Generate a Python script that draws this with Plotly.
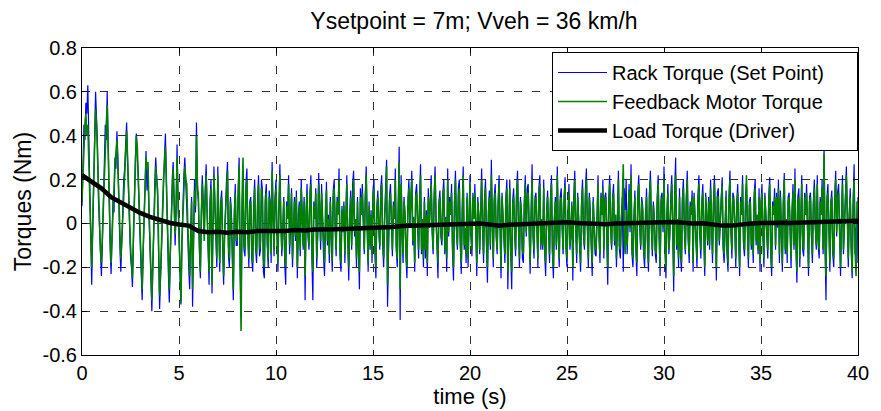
import numpy as np
import plotly.graph_objects as go

# ---- data, 0.05 s steps from 0 to 40 s ----
rack_torque = [
    .08, .30, .45, .38, .55, .50, .63, .40, .20, -.10, -.28, -.05, .15, .42, .60, .48, .35, .10, -.05, -.18,
    -.24, -.10, .10, .30, .45, .38, .60, .35, .05, -.12, -.23, -.08, .12, .05, .30, .25, .42, .30, .05, -.10,
    -.22, -.12, .05, .20, .25, .36, .46, .28, .10, -.05, -.15, -.20, -.29, -.10, .15, .30, .41, .33, .20, .05,
    -.10, -.20, -.35, -.15, .05, .20, .33, .15, .25, .05, -.12, -.28, -.40, -.22, .02, .18, .30, .22, .12, -.15,
    -.39, -.25, -.10, .10, .25, .30, .41, .15, -.05, -.22, -.36, -.15, .05, .20, .28, .12, -.10, .05, .36, .10,
    -.10, -.25, -.37, -.10, .10, .22, .30, .18, .15, -.05, -.20, -.30, -.05, .12, -.38, -.15, .20, .05, .46, .15,
    .10, -.12, -.25, .05, .22, .10, -.05, .15, .27, .05, -.15, -.28, .10, .20, -.32, -.10, .26, .08, -.05, -.20,
    .26, .05, -.22, .10, .15, -.10, -.28, -.05, .10, .20, .28, -.15, -.20, .12, .05, -.18, -.35, .05, .18, -.10,
    -.10, .15, .30, -.20, -.43, .05, .22, -.12, -.15, .18, .25, -.05, -.20, .10, .12, -.16, -.22, .08, .20, -.12,
    -.18, .10, .22, -.15, -.12, .20, .15, -.22, -.25, .12, .18, -.10, -.20, .15, .10, -.18, .28, .05, -.15, .12,
    .20, -.05, -.22, .08, .27, .02, -.15, -.04, .12, -.18, -.28, .10, .03, .22, -.14, -.02, .16, -.20, .05, .12,
    -.08, .15, -.25, .04, .10, -.15, .20, .06, -.12, .12, -.35, .05, .18, -.06, -.12, .14, .22, -.16, -.35, .10,
    .02, .16, -.20, -.05, .23, .08, -.12, .18, -.02, -.15, -.24, .08, .19, -.10, .04, -.18, .12, -.06, -.22, .15,
    .20, -.02, -.15, .12, .05, .25, -.16, -.22, .08, -.04, .10, -.18, .14, .22, -.08, -.26, .03, .15, -.12, .18,
    .24, -.06, .02, -.20, .12, -.14, -.30, .16, .04, .18, -.08, -.14, .12, .26, -.02, -.22, .10, -.12, .06, -.18,
    .15, .20, -.14, -.25, .08, .15, -.03, -.12, .16, .22, -.10, -.20, .04, .14, .29, -.38, -.10, .12, .18, -.05,
    -.15, .10, .02, .25, -.12, -.20, .14, .35, -.44, .22, -.04, -.18, .12, .04, -.16, -.25, .10, .20, -.02, .16,
    .24, -.10, .03, -.22, .14, .18, -.06, -.16, .10, .27, -.14, .02, -.20, .12, -.16, .06, -.24, .16, -.02, .14,
    .22, -.04, -.14, .12, .26, .02, -.16, -.25, .10, .15, -.06, -.10, .14, .20, -.14, .03, -.22, .25, -.06, .12,
    .04, .18, -.14, -.26, .10, .24, -.02, -.12, .16, .20, -.10, -.23, .06, .26, -.12, -.04, -.18, .14, -.20, .12,
    .22, -.06, -.15, .14, .02, .18, -.10, -.24, .12, .04, -.14, .10, .25, -.04, -.18, .12, .20, -.10, -.27, .06,
    .15, -.12, .29, .02, -.20, .12, .18, -.06, -.14, .10, .22, -.02, -.25, .14, .04, -.10, -.18, .12, .20, -.30,
    .08, .20, -.14, -.30, .10, .16, -.04, -.15, .14, .24, -.02, -.20, .12, .05, -.16, -.18, .10, .22, -.06, .16,
    .18, -.10, -.23, .04, .27, -.06, -.16, .12, .14, -.02, -.20, .16, .22, -.12, .02, -.12, .20, -.14, -.24, .06,
    .15, -.04, -.18, .12, .22, -.14, -.25, .02, .12, -.12, .26, -.06, -.20, .12, .16, -.02, -.14, .12, .21, -.12,
    -.20, .04, .18, -.12, -.05, .10, -.26, .12, .24, -.02, -.18, .14, .04, -.12, -.22, .10, .20, -.06, -.12, .16,
    .25, -.02, -.20, .14, .06, -.10, -.24, .12, .02, -.14, -.15, .10, .22, -.06, -.18, .14, .04, .20, -.16, .12,
    .14, -.06, -.28, .10, .22, -.02, -.12, .12, .18, -.10, .04, -.20, .14, .24, -.12, -.16, .02, .12, -.22, .16,
    .06, .20, -.14, .12, .18, -.04, .27, -.14, -.20, .02, .15, -.12, -.24, .14, .22, -.02, -.12, .12, .08, -.14,
    -.20, .04, .16, -.10, -.22, .14, .24, -.02, -.15, .10, .03, -.14, -.18, .12, .22, -.06, -.24, .12, .14, -.04,
    .26, -.12, -.25, .04, .18, -.14, -.06, .12, .22, -.02, -.31, .14, .30, -.12, .02, -.20, .16, -.14, -.22, .12,
    .20, -.02, -.14, .12, .24, -.08, -.18, .10, .04, .15, -.22, .14, .02, -.10, -.20, .12, .22, -.06, -.16, .10,
    .18, -.04, -.24, .14, .02, -.10, .12, -.12, .20, -.06, -.18, .10, .22, -.02, -.26, .14, .16, -.10, .04, .12,
    .21, -.12, -.18, .02, .15, -.14, -.22, .12, .24, -.04, -.16, .14, .12, -.02, -.20, .10, .18, -.06, -.24, .12,
    .04, .22, -.10, -.15, .12, .18, -.04, -.20, .10, .12, -.12, -.02, -.18, .14, .20, -.10, .04, -.14, .16, -.22,
    .10, .18, -.06, -.20, .14, .02, -.10, -.16, .12, .21, -.14, -.24, .10, .04, .16, -.12, .14, -.02, .20, -.18,
    .15, -.04, -.22, .10, .23, -.14, .02, -.18, .12, .14, -.10, -.20, .06, .18, -.12, .25, -.10, -.27, .12, .16,
    -.20, .02, .22, -.12, -.15, .14, .04, .18, -.10, -.24, .12, .14, -.06, -.18, .10, .20, -.02, -.12, .22, -.10,
    -.16, .12, .04, .20, -.14, .34, -.10, -.35, .12, .18, -.02, -.22, .10, .15, -.14, -.20, .12, .24, -.06, .14,
    .18, -.12, -.24, .02, .22, -.14, -.04, .12, .26, -.10, -.20, .04, .16, -.12, -.25, .10, .27, -.14, -.02, -.18,
    .12,
]

motor_torque = [
    .10, .25, .38, .45, .50, .40, .45, .30, .10, -.05, -.20, .00, .20, .38, .52, .45, .30, .12, -.02, -.12,
    -.18, -.05, .15, .28, .40, .45, .54, .30, .10, -.05, -.18, -.05, .08, .15, .28, .32, .38, .25, .08, -.06,
    -.16, -.08, .02, .15, .22, .35, .42, .30, .15, .00, -.10, -.18, -.25, -.05, .12, .28, .40, .35, .25, .08,
    -.05, -.18, -.30, -.12, .02, .18, .30, .25, .28, .08, -.08, -.25, -.35, -.18, .00, .15, .26, .20, .15, -.10,
    -.33, -.22, -.12, .05, .20, .28, .35, .18, .00, -.18, -.30, -.12, .02, .15, .25, .10, -.05, .08, .30, .12,
    -.08, -.22, -.36, -.08, .05, .18, .26, .20, .18, .00, -.15, -.24, -.08, .10, -.30, -.10, .15, .08, .40, .18,
    .12, -.08, -.22, .02, .18, .08, -.08, .12, .22, .05, -.12, -.22, .08, .16, -.28, -.08, .22, .10, -.02, -.16,
    .22, .05, -.18, .08, .12, -.08, -.24, -.05, .08, .16, .24, -.10, -.16, .10, .02, -.14, -.30, .02, .14, -.08,
    -.05, .12, .26, -.18, -.49, .10, .30, -.10, -.12, .14, .20, -.04, -.16, .08, .10, -.12, -.18, .06, .16, -.10,
    -.14, .08, .18, -.12, -.08, .16, .12, -.16, -.20, .10, .14, -.08, -.16, .12, .08, -.14, .24, .04, -.12, .10,
    .16, -.04, -.18, .06, .22, .00, -.12, -.02, .10, -.14, -.20, .08, .02, .18, -.10, .03, .14, -.16, .04, .10,
    -.06, .12, -.20, .02, .08, -.12, .16, .04, -.10, .10, -.24, .04, .14, -.04, -.10, .12, .18, -.12, -.22, .08,
    .02, .14, -.16, -.04, .18, .06, -.08, .14, .00, -.12, -.18, .06, .15, -.08, .02, -.14, .10, -.04, -.17, .12,
    .16, .00, -.12, .10, .04, .20, -.12, -.18, .06, -.02, .08, -.14, .12, .18, -.06, -.20, .02, .12, -.10, .14,
    .20, -.04, .02, -.16, .10, -.12, -.22, .12, .04, .14, -.06, -.12, .10, .22, .00, -.18, .08, -.10, .04, -.14,
    .12, .16, -.10, -.20, .06, .12, -.02, -.10, .12, .18, -.08, -.16, .02, .10, .26, -.28, -.08, .10, .14, -.04,
    -.12, .08, .02, .20, -.10, -.16, .12, .28, -.30, .18, -.02, -.14, .10, .04, -.12, -.20, .08, .16, .00, .12,
    .20, -.08, .02, -.18, .12, .14, -.04, -.12, .08, .22, -.12, .02, -.16, .10, -.12, .04, -.18, .12, -.02, .10,
    .18, -.02, -.12, .10, .22, .02, -.12, -.18, .08, .12, -.04, -.08, .12, .16, -.12, .02, -.16, .20, -.04, .10,
    .04, .14, -.10, -.20, .08, .20, -.02, -.10, .12, .16, -.08, -.18, .04, .22, -.10, -.02, -.14, .12, -.16, .10,
    .18, -.04, -.12, .12, .02, .14, -.08, -.18, .10, .04, -.12, .08, .20, -.02, -.14, .10, .16, -.08, -.20, .04,
    .12, -.10, .22, .02, -.16, .10, .14, -.04, -.12, .08, .18, .00, -.20, .12, .04, -.08, -.14, .10, .16, -.22,
    .06, .16, -.12, -.22, .08, .12, -.02, -.12, .12, .20, .00, -.16, .10, .04, -.12, -.14, .08, .18, -.04, .12,
    .14, -.08, -.18, .04, .20, -.04, -.12, .10, .12, -.02, -.16, .12, .18, -.10, .02, -.10, .16, -.12, -.18, .04,
    .12, -.02, -.14, .10, .18, -.12, -.20, .02, .10, -.10, .22, -.04, -.16, .10, .12, .00, -.12, .10, .17, -.10,
    -.16, .04, .14, -.10, -.04, .08, -.20, .10, .20, -.02, -.14, .12, .04, -.10, -.18, .08, .16, -.04, -.10, .12,
    .20, .00, -.16, .12, .04, -.08, -.18, .10, .02, -.12, -.12, .08, .18, -.04, -.14, .12, .04, .16, -.12, .10,
    .12, -.04, -.20, .08, .18, -.02, -.10, .10, .14, -.08, .04, -.16, .12, .20, -.10, -.12, .02, .10, .27, -.08,
    -.14, .06, -.10, .10, .15, -.02, .22, -.12, -.16, .02, .12, -.10, -.18, .12, .18, .00, -.10, .10, .06, -.12,
    -.16, .04, .12, -.08, -.18, .12, .20, -.02, -.12, .08, .02, -.12, -.14, .10, .18, -.04, -.20, .10, .12, -.02,
    .20, -.10, -.20, .04, .14, -.12, -.04, .10, .18, -.02, -.24, .12, .22, -.10, .02, -.16, .12, -.12, -.18, .10,
    .16, -.02, -.12, .10, .20, -.06, -.14, .08, .04, .12, -.18, .12, .02, -.08, -.16, .10, .18, -.04, -.12, .08,
    .14, -.04, -.20, .12, .02, -.08, .10, -.10, .16, -.04, -.14, .08, .18, .00, -.20, .12, .12, -.08, .04, .10,
    .17, -.10, -.14, .02, .12, -.12, -.18, .10, .20, -.02, -.12, .12, .10, .00, -.16, .08, .14, -.04, -.20, .10,
    .04, .18, -.08, -.12, .10, .22, -.02, -.16, .08, .10, -.10, .00, -.14, .12, .16, -.08, .04, -.12, .12, -.18,
    .08, .14, -.04, -.16, .12, .02, -.08, -.12, .10, .18, -.12, -.20, .08, .04, .12, -.10, .12, .00, .16, -.14,
    .12, -.02, -.18, .08, .20, -.12, .02, -.14, .10, .12, -.08, -.16, .04, .14, -.10, .20, -.08, -.22, .10, .12,
    -.16, .02, .18, -.10, -.12, .12, .04, .14, -.08, -.20, .10, .12, -.04, -.14, .08, .16, .00, -.10, .18, -.08,
    -.12, .10, .04, .16, -.12, .32, -.08, -.24, .10, .14, -.02, -.18, .08, .12, -.12, -.16, .10, .20, -.04, .12,
    .14, -.10, -.20, .02, .18, -.12, -.04, .10, .22, -.08, -.16, .04, .12, -.10, -.22, .08, .20, -.12, -.24, .10,
    .08,
]

# load torque, 0.5 s steps from 0 to 40 s
load_torque = [
    0.22, 0.19, 0.16, 0.12, 0.095, 0.07, 0.048, 0.03, 0.015, 0.003,
    -0.005, -0.01, -0.035, -0.04, -0.038, -0.042, -0.038, -0.04, -0.035, -0.036,
    -0.033, -0.034, -0.03, -0.032, -0.028, -0.03, -0.027, -0.025, -0.024, -0.022,
    -0.022, -0.018, -0.016, -0.012, -0.011, -0.008, -0.01, -0.007, -0.005, -0.004,
    -0.003, 0.0, -0.005, -0.01, -0.006, -0.004, -0.002, 0.0, -0.002, 0.003,
    0.005, 0.002, 0.0, -0.006, -0.004, 0.0, 0.002, 0.004, 0.001, 0.003,
    0.005, 0.006, 0.002, 0.0, 0.001, -0.005, -0.01, -0.01, -0.003, 0.0,
    0.002, 0.0, 0.003, 0.002, 0.004, 0.005, 0.003, 0.006, 0.008, 0.01,
    0.012,
]

x_tick_vals = [0, 5, 10, 15, 20, 25, 30, 35, 40]
x_tick_text = ["0", "5", "10", "15", "20", "25", "30", "35", "40"]
y_tick_vals = [-0.6, -0.4, -0.2, 0, 0.2, 0.4, 0.6, 0.8]
y_tick_text = ["-0.6", "-0.4", "-0.2", "0", "0.2", "0.4", "0.6", "0.8"]

series_names = ["Rack Torque (Set Point)", "Feedback Motor Torque", "Load Torque (Driver)"]

t_fast = np.linspace(0, 40, len(rack_torque))
t_load = np.linspace(0, 40, len(load_torque))

FONT = "Arial, Liberation Sans, sans-serif"
PAD = "\u00a0" * 5  # trailing blank room inside the legend box, as in the original

fig = go.Figure()
fig.add_trace(go.Scatter(x=t_fast, y=rack_torque, mode="lines", name=series_names[0] + PAD,
                         line=dict(color="#0000FF", width=1.2), legendgroup="a"))
fig.add_trace(go.Scatter(x=t_fast, y=motor_torque, mode="lines", name=series_names[1],
                         line=dict(color="#008000", width=1.6), legendgroup="b"))
fig.add_trace(go.Scatter(x=t_load, y=load_torque, mode="lines", name=series_names[2],
                         line=dict(color="#000000", width=4.5), legendgroup="c"))

axis_common = dict(
    showline=True, linecolor="black", linewidth=1, mirror="ticks",
    ticks="inside", ticklen=5, tickcolor="black",
    showgrid=True, gridcolor="#303030", gridwidth=1, griddash="8px,10px",
    zeroline=False,
    tickfont=dict(family=FONT, size=20, color="black"),
)

fig.update_xaxes(range=[0, 40], tickvals=x_tick_vals, ticktext=x_tick_text,
                 title=dict(text="time (s)", font=dict(family=FONT, size=22, color="black"), standoff=0),
                 **axis_common)
fig.update_yaxes(range=[-0.6, 0.8], tickvals=y_tick_vals, ticktext=y_tick_text,
                 title=dict(text="Torques (Nm)", font=dict(family=FONT, size=23, color="black"), standoff=4),
                 **axis_common)

fig.update_layout(
    width=881, height=411,
    margin=dict(l=82, r=15, t=48, b=52),
    paper_bgcolor="white", plot_bgcolor="white",
    title=dict(text="Ysetpoint = 7m; Vveh = 36 km/h", x=0.538, xanchor="center",
               y=0.95, yanchor="middle",
               font=dict(family=FONT, size=23, color="black")),
    legend=dict(x=1.0, xanchor="right", y=0.987, yanchor="top",
                bgcolor="white", bordercolor="black", borderwidth=1,
                font=dict(family=FONT, size=20, color="black"),
                itemwidth=49, tracegroupgap=2, traceorder="normal"),
    showlegend=True,
)

fig.write_html("out.html")
